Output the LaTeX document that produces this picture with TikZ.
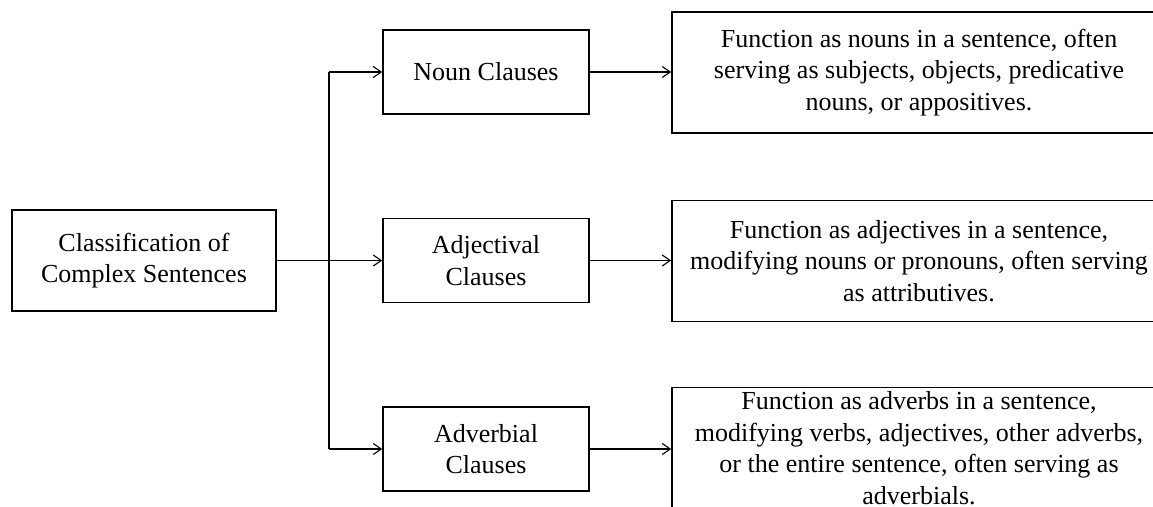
\documentclass[tikz,border=0pt]{standalone}
\usepackage{fontspec}
\setmainfont{Liberation Serif}
\usetikzlibrary{arrows.meta}
\begin{document}
\begin{tikzpicture}[x=1pt,y=-1pt,
  box/.style={draw, line width=1.6pt, inner sep=0pt, align=center,
    font=\fontsize{26}{31.5}\selectfont},
  midbox/.style={box, minimum width=206pt, minimum height=84pt},
  descbox/.style={box, minimum width=494pt, minimum height=121pt},
  conn/.style={line width=1.1pt, -{Straight Barb[length=8pt,width=11pt]}},
  plain/.style={line width=1.1pt}]
\useasboundingbox (0,0) rectangle (1153,506);
\clip (0,0) rectangle (1153,506);
\node[box, minimum width=264pt, minimum height=101pt] (root) at (144,260.5) {Classification of\\Complex Sentences};
\node[midbox] (noun) at (486,72) {Noun Clauses};
\node[midbox] (adj) at (486,260.5) {Adjectival\\Clauses};
\node[midbox] (adv) at (486,449) {Adverbial\\Clauses};
\node[descbox] (dnoun) at (919,72.5) {Function as nouns in a sentence, often\\serving as subjects, objects, predicative\\nouns, or appositives.};
\node[descbox] (dadj) at (919,261) {Function as adjectives in a sentence,\\modifying nouns or pronouns, often serving\\as attributives.};
\node[descbox] (dadv) at (919,448) {Function as adverbs in a sentence,\\modifying verbs, adjectives, other adverbs,\\or the entire sentence, often serving as\\adverbials.};
\coordinate (top) at (329,72);
\coordinate (bot) at (329,449);
\draw[plain] (top) -- (bot);
\draw[conn] (root.east) -- (adj.west);
\draw[conn] (top) -- (noun.west);
\draw[conn] (bot) -- (adv.west);
\draw[conn] (noun.east) -- (dnoun.west |- noun.east);
\draw[conn] (adj.east) -- (dadj.west |- adj.east);
\draw[conn] (adv.east) -- (dadv.west |- adv.east);
\end{tikzpicture}
\end{document}
